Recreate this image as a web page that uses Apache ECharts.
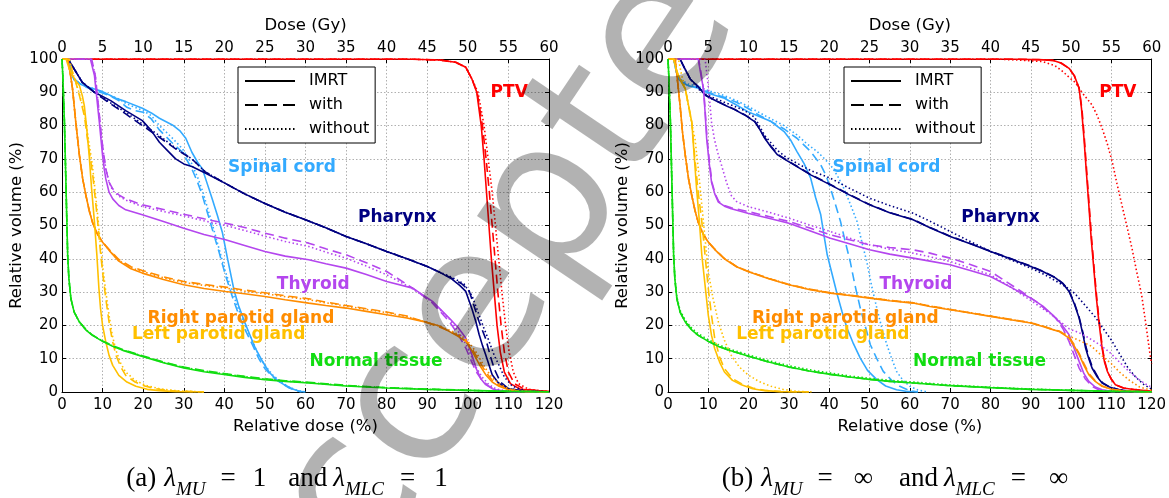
<!DOCTYPE html>
<html><head><meta charset="utf-8">
<script src="https://cdn.jsdelivr.net/npm/echarts@6/dist/echarts.min.js"></script>
<style>html,body{margin:0;padding:0;background:#fff}#c{width:1169px;height:498px}</style>
</head><body><div id="c"></div><script>
// ---------- DATA (relative dose %, relative volume %) ----------
const structNames = ['PTV','Spinal cord','Pharynx','Thyroid','Right parotid gland','Left parotid gland','Normal tissue'];
const structColors = ['#ff0000','#33aaff','#000080','#b446ee','#ff8c00','#ffc000','#11dd11'];
const variantNames = ['IMRT','with','without'];
const labelXa = [110.2,54.2,82.6,61.9,44.1,38.6,77.4];
const labelXb = [111.6,54.2,82.5,61.5,44.0,38.4,77.3];
const labelY = [90,67.3,52.3,32.4,21.9,17.1,9.0];
const captionA = ['(a)','1','1'];
const captionB = ['(b)','∞','∞'];

// Panel (a)
const A_PTV_imrt = [[0,100],[85,100],[93,99.7],[97,99],[99.5,97.5],[101,94],[102.2,90],[103.3,80],[104,70],[104.6,60],[105.2,50],[105.8,40],[106.5,30],[107.2,20],[108,12],[109,6],[110.5,2.5],[113,0.8],[120,0.1]];
const A_PTV_with = [[0,100],[85,100],[93,99.7],[97,99],[99.5,97.5],[101,94],[102.3,90],[103.6,80],[104.5,70],[105.3,60],[106,50],[106.7,40],[107.4,30],[108.2,20],[109,12],[110,6],[111.5,2.5],[114,0.8],[120,0.1]];
const A_PTV_without = [[0,100],[85,100],[93,99.7],[97,99],[99.5,97.5],[101,94],[102.5,90],[104,80],[105,70],[106,60],[106.8,50],[107.6,40],[108.4,30],[109.3,20],[110.2,12],[111.2,6],[112.5,2.5],[115,0.8],[120,0.1]];
const A_Cord_imrt = [[0,100],[1.8,100],[2.5,95],[3,93.7],[4.5,92.5],[5.9,91.7],[8,91],[10,90.2],[13.3,88.2],[15.7,87.2],[19.8,85.2],[22,83.8],[24,82.2],[27.2,80.2],[29,78.5],[30.5,76.2],[32,72],[33.4,69],[34.6,67],[35.8,62.5],[37,58],[38.3,53],[39.5,48],[40.8,40],[42.4,30.5],[43.5,26],[45,21],[46.5,16.5],[47.7,13],[49.5,9],[51,6],[53,3.5],[55,2],[57,0.8],[58.5,0.2],[60,0]];
const A_Cord_with = [[0,100],[1.8,100],[2.5,95],[3,94],[4.5,92.5],[6,91.5],[8,90.5],[10,89.8],[12,88.8],[14,87.5],[16,85.5],[18,84.5],[20,84],[22,82],[24,78.7],[27,75],[29.7,72],[32,67],[33.4,63],[34.6,59],[35.8,54],[37,49],[38.7,42],[40.3,35],[42,28.5],[43.6,23],[45,19],[47,14],[48.5,10],[50,7],[52,4.5],[54,2.7],[56,1.2],[57.5,0.5],[59,0]];
const A_Cord_without = [[0,100],[1.8,100],[2.5,95],[3,94],[4.5,92.5],[6,91.8],[8,91],[10,90],[12,89],[14,88],[16,86.5],[18,85.5],[20,84.5],[22,83],[24,80],[27,76.5],[29.7,73],[32,68.5],[33.4,64.5],[34.6,60.5],[35.8,55.5],[37,50.5],[38.7,43],[40.3,36],[42,30],[43.6,24.5],[45,20.5],[47,15],[48.5,11],[50,8],[52,5],[54,3],[56,1.4],[58,0.5],[60,0]];
const A_Phar_imrt = [[0,100],[1.5,100],[3,97],[5,93],[8,90],[12,87.5],[15.7,84.5],[19.8,81.5],[22,78.5],[24,75],[26,72.5],[28,70],[30,68.5],[32,67.7],[35.4,65.7],[40,62.8],[45,59.5],[50,56.6],[55,54],[60,51.7],[65,49.3],[70,46.7],[75,44.5],[80,42.2],[85,40],[90,37.7],[93,36],[96,34],[98,32],[99.5,30.2],[101,25],[102,21],[102.8,17.2],[103.6,14],[104.4,11.2],[106,5.2],[107.5,2.8],[109.3,1.2],[113,0.4],[116,0.2],[120,0]];
const A_Phar_with = [[0,100],[1.5,100],[3,97],[5,93],[8,90],[12,86.5],[15.7,83.5],[19.8,80],[24,76.5],[28,73],[32,70],[35.4,66],[40,62.8],[45,59.5],[50,56.6],[55,54],[60,51.7],[65,49.3],[70,46.7],[75,44.5],[80,42.2],[85,40],[90,37.7],[93,36],[96,34.2],[98.5,32.5],[100.3,30.5],[101.5,26],[102.8,21],[104.4,16],[105.5,11],[106.5,7],[108,3],[110,1],[114,0.2],[120,0]];
const A_Phar_without = [[0,100],[1.5,100],[3,97],[5,93],[8,90],[12,86.8],[15.7,84],[19.8,80.5],[24,77],[28,73.2],[32,70],[35.4,66],[40,62.8],[45,59.5],[50,56.6],[55,54],[60,51.7],[65,49.3],[70,46.7],[75,44.5],[80,42.2],[85,40],[90,37.7],[93,36],[96,34.5],[99,32.5],[101,29],[102.5,24],[104,19],[105,16],[106.5,11],[107.7,8],[109,4.5],[111,1.7],[114,0.4],[120,0]];
const A_Thy_imrt = [[0,100],[7,100],[8,95],[8.6,88],[9.2,81],[9.6,76],[10,71],[10.4,67],[10.8,64],[11.6,60],[12.5,58],[14,56],[15.7,54.7],[19.8,53.2],[25,51.2],[30,49.2],[35,47.3],[40.3,45.7],[45,44],[50,42.2],[55,40.8],[60.8,39.7],[65,38.5],[70,37.2],[75,35.3],[80,33.2],[86.4,31.2],[91.3,27.2],[95.4,22.2],[97.5,19.5],[99.5,16.2],[100.8,12],[102,7.2],[103.2,4],[104.4,2.2],[106,1],[107.7,0.4],[110,0.1],[120,0]];
const A_Thy_with = [[0,100],[7.3,100],[8.2,95],[8.8,88],[9.3,82],[9.8,76],[10.2,72],[10.8,67],[11.6,63],[12.5,61],[14,59.2],[15.7,58],[19.8,56.2],[25,54.8],[30,53.4],[35,52],[40.3,50.7],[45,49.4],[50,47.7],[55,46.2],[60.8,44.7],[65,43],[70,41.2],[75,38.8],[80,36.2],[86.4,31.2],[91.3,26.7],[95.4,21.2],[97.5,17.5],[99.5,13.2],[100.8,9.5],[102,6.2],[103.5,3.5],[105.2,1.7],[107,0.6],[110,0.1],[120,0]];
const A_Thy_without = [[0,100],[7.3,100],[8.2,95],[8.8,88],[9.3,82],[9.8,76],[10.2,72],[10.8,67],[11.6,63],[12.5,60.5],[14,58.8],[15.7,57.6],[19.8,55.7],[25,54.2],[30,52.9],[35,51.4],[40.3,50],[45,48.5],[50,46.8],[55,45.2],[60.8,43.7],[65,42],[70,40.2],[75,37.8],[80,35.2],[86.4,31],[91.3,27],[95.4,22],[97.5,18.5],[99.5,14.5],[100.8,11],[102,7.5],[103.5,4.5],[105.2,2.2],[107,0.9],[110,0.2],[120,0]];
const A_RP_imrt = [[0,100],[1.4,100],[2,96],[2.6,91],[3.4,81],[4.3,71],[5.1,64],[5.9,59],[6.7,54.5],[7.5,51],[8.7,47.5],[10,45],[12,42],[14,39.3],[17,37],[19.8,35.7],[25,33.8],[30,32.2],[35,31.1],[40.3,30.2],[45,29.5],[50,28.7],[55,27.7],[60.8,26.7],[65,26],[70,25.2],[75,24.2],[80,23.2],[85,22.2],[90,20.9],[93,19.8],[95.4,18.2],[97.5,16.8],[99.5,15.2],[100.8,12.8],[102,10.2],[103.2,7.5],[104.4,5.2],[106,3],[107.7,1.7],[110,0.7],[112.6,0.2],[120,0]];
const A_RP_with = [[0,100],[1.4,100],[2,96],[2.6,91],[3.4,81],[4.3,71],[5.1,64],[5.9,59],[6.7,54.5],[7.5,51],[8.7,47.5],[10,45],[12,42.3],[14,39.8],[17,37.6],[19.8,36.5],[25,34.6],[30,33.2],[35,32.3],[40.3,31.5],[45,30.6],[50,29.8],[55,28.9],[60.8,28],[65,27],[70,26],[75,25],[80,24],[85,22.8],[90,20.8],[93,19.5],[95.4,18.3],[97.5,17],[99.5,15.5],[100.8,13.5],[102,11],[103.2,8.5],[104.4,6],[106,3.5],[107.7,2],[110,0.8],[113,0.2],[120,0]];
const A_RP_without = [[0,100],[1.4,100],[2,96],[2.6,91],[3.4,81],[4.3,71],[5.1,64],[5.9,59],[6.7,54.5],[7.5,51],[8.7,47.5],[10,45],[12,42.1],[14,39.5],[17,37.3],[19.8,36.2],[25,34.3],[30,32.9],[35,32],[40.3,31.2],[45,30.3],[50,29.5],[55,28.6],[60.8,27.7],[65,26.8],[70,25.8],[75,24.8],[80,23.8],[85,22.6],[90,20.9],[93,19.8],[95.4,18.6],[97.5,17.4],[99.5,16],[100.8,14],[102,12],[103.2,9.5],[104.4,7],[106,4.3],[107.7,2.5],[110,1],[113,0.3],[120,0]];
const A_LP_imrt = [[0,100],[1,100],[1.8,97],[2.6,95],[3.4,93.5],[4.3,92],[5,89],[5.5,86],[6.1,79],[6.7,71],[7.3,61],[8,51],[8.6,41],[9.1,31],[9.5,25],[10,20],[10.8,15],[11.6,11],[12.5,8],[14,5],[16,3],[18.2,1.7],[21,0.8],[24,0.4],[28,0.1],[35,0]];
const A_LP_with = [[0,100],[1.8,100],[2.6,96],[3.4,93],[4.3,89],[5.5,83],[6.5,74],[7.5,66],[8.2,58],[8.8,51],[9.4,43],[10,36],[10.8,28],[11.6,21],[12.4,15.5],[13.3,11],[14.5,7.5],[15.7,5],[18,3],[20.6,1.7],[24,0.8],[28,0.3],[35,0]];
const A_LP_without = [[0,100],[1.8,100],[2.6,96],[3.4,93],[4.3,89.5],[5.5,84],[6.5,76],[7.5,68],[8.2,60],[8.8,53],[9.4,45],[10,38],[10.8,30],[11.6,23],[12.4,17],[13.3,12.5],[14.5,8.5],[15.7,6],[18,3.5],[20.6,2],[24,1],[28,0.4],[35,0]];
const A_NT_imrt = [[0,100],[0.2,95],[0.4,88],[0.6,81],[0.8,71],[1,61],[1.2,51],[1.4,41],[1.7,34],[2.2,28],[3,24],[4.3,21],[6,18.5],[7.5,17],[10,15.2],[12.5,13.7],[15,12.5],[19.8,10.7],[25,8.8],[30,7.2],[35,6.1],[40.3,5.2],[45,4.4],[50,3.7],[55,3.2],[60.8,2.7],[70,1.8],[80,1.2],[90,0.8],[100,0.5],[110,0.2],[120,0.05]];
const A_NT_with = [[0,100],[0.2,95],[0.4,88],[0.6,81],[0.8,71],[1,61],[1.2,51],[1.4,41],[1.7,34],[2.2,28],[3,24],[4.3,21],[6,18.6],[7.5,17.1],[10,15.3],[12.5,13.9],[15,12.7],[19.8,10.9],[25,9],[30,7.5],[35,6.4],[40.3,5.5],[45,4.7],[50,4],[55,3.4],[60.8,2.9],[70,2],[80,1.3],[90,0.9],[100,0.5],[110,0.2],[120,0.05]];
const A_NT_without = [[0,100],[0.2,95],[0.4,88],[0.6,81],[0.8,71],[1,61],[1.2,51],[1.4,41],[1.7,34],[2.2,28],[3,24],[4.3,21],[6,18.6],[7.5,17.1],[10,15.3],[12.5,13.8],[15,12.6],[19.8,10.8],[25,8.9],[30,7.4],[35,6.3],[40.3,5.4],[45,4.6],[50,3.9],[55,3.3],[60.8,2.8],[70,1.9],[80,1.3],[90,0.8],[100,0.5],[110,0.2],[120,0.05]];

// Panel (b)
const B_PTV_imrt = [[0,100],[85,100],[92,99.8],[95.4,99.6],[97.5,98.8],[99.5,97.2],[100.8,95],[102,91.2],[102.6,85],[103.2,76.2],[103.8,66],[104.4,56.2],[105,46],[105.7,36.2],[106.3,28],[106.9,21.2],[107.7,13.2],[108.3,9],[109,6.2],[110,3.8],[111,2.2],[113,1.2],[115.9,0.7],[120,0.2]];
const B_PTV_with = [[0,100],[85,100],[92,99.8],[95.4,99.6],[97.5,98.8],[99.5,97.2],[100.8,95],[102,91.2],[102.7,85],[103.3,76],[103.9,66],[104.5,56],[105.1,46],[105.8,36],[106.4,28],[107,21],[107.8,13],[108.4,9],[109.1,6],[110,3.8],[111,2.2],[113,1.2],[116,0.7],[120,0.2]];
const B_PTV_without = [[0,100],[80,100],[83,99.9],[88,99.6],[93,99.2],[96,98],[98,96.2],[99.5,94.5],[101,93],[103,89.5],[105.2,86.2],[106.5,83],[107.7,79.2],[109,74.5],[110.2,69.2],[111.4,62.5],[112.6,56.2],[113.9,49.5],[115.1,43.2],[116.3,36],[117.5,29.2],[118.6,20],[119.6,11.2],[120,8.5]];
const B_Cord_imrt = [[0,100],[1.4,100],[2,96.5],[2.6,94],[3.5,93],[5,92],[7.5,91.2],[10,89.7],[14,88.2],[17,86.2],[19.8,84.2],[22.5,82.8],[25.6,81.2],[28.8,78.2],[30.5,75.5],[32,72.2],[33.8,68.5],[35.4,64.2],[36.6,58.5],[37.9,53.2],[38.7,47],[39.5,41.2],[40.8,35],[42,29.2],[43.2,24],[44.4,19.2],[46,14.5],[47.7,10.2],[49.5,6.5],[51.8,3.7],[54,1.8],[56.7,0.7],[59,0.2],[62,0]];
const B_Cord_with = [[0,100],[1.4,100],[2,96.5],[2.6,94],[3.5,93],[5,92],[7.5,91.5],[10,90],[14,88.5],[17,87],[19.8,85.2],[22.5,83.2],[25.6,81.2],[28.8,79],[32,76.2],[35.4,72.2],[37.9,68.2],[39.2,65],[40.3,61.2],[41.5,56.5],[42.8,51.2],[44,45],[45.2,39.2],[46.4,32],[47.7,25.2],[49,19.5],[50.2,14.2],[51.8,10],[53.4,6.2],[55.5,3.5],[57.5,1.7],[60,0.4],[62,0]];
const B_Cord_without = [[0,100],[1.4,100],[2,96.5],[2.6,94.5],[3.5,93.5],[5,92.5],[7.5,91.8],[10,90.5],[14,89],[17,87.5],[19.8,85.8],[22.5,84],[25.6,82],[28.8,80],[32,77.2],[34.5,74.5],[37,72.2],[38.7,70.2],[40.3,68.2],[42,65],[43.6,61.2],[45.2,56.5],[46.9,51.2],[48.1,45],[49.3,39.2],[50.5,32],[51.8,25.2],[53,19.5],[54.3,14.2],[55.5,10],[56.7,6.2],[58.3,3.5],[60,1.7],[62,0.6],[64,0.1]];
const B_Phar_imrt = [[0,100],[3,100],[4,97.5],[5.5,94],[7.5,91.7],[9.2,89.2],[11,88],[14,86.2],[16.5,84.8],[19,83.2],[21.5,81.2],[22.8,78.8],[24,76.2],[25.6,73.5],[27.2,71.2],[29.5,69.5],[32,67.7],[35.4,65.2],[40.3,62.2],[45,59.2],[50,56.2],[55,53.8],[60.8,51.7],[65,49.3],[70,46.7],[75,44.5],[80,42.2],[85,40],[90,37.7],[93,36.2],[96.2,34.2],[98,32.5],[99.5,30.2],[100.8,26.5],[102,22.2],[103,17],[103.6,13.2],[104.4,10],[105.2,7.2],[106.5,4.5],[107.7,2.7],[109.5,1.5],[111.8,0.7],[115,0.2],[120,0]];
const B_Phar_with = [[0,100],[3,100],[4,97.5],[5.5,94],[7.5,91.7],[9.2,89.2],[11,88],[14,86.3],[16.5,84.9],[19,83.3],[21.5,81.3],[22.8,78.9],[24,76.4],[25.6,73.7],[27.2,71.4],[29.5,69.6],[32,67.8],[35.4,65.3],[40.3,62.3],[45,59.3],[50,56.3],[55,53.9],[60.8,51.8],[65,49.4],[70,46.8],[75,44.6],[80,42.3],[85,40.1],[90,37.8],[93,36.3],[96.2,34.3],[98,32.6],[99.5,30.4],[100.8,26.8],[102,22.5],[103,17.5],[103.7,13.5],[104.5,10.2],[105.3,7.4],[106.6,4.6],[107.8,2.8],[109.6,1.5],[112,0.7],[115,0.2],[120,0]];
const B_Phar_without = [[0,100],[3,100],[4,97.5],[5.5,94],[7.5,91],[9.2,89.5],[11,88.5],[14,87],[16.5,85.8],[19,84.5],[21.5,82.5],[24,77],[27.2,72.5],[29.5,70.3],[32,68.7],[35.4,66.5],[40.3,64.2],[45,61.2],[50,58.2],[55,56],[60.8,53.7],[65,51.3],[70,48.2],[75,45.2],[80,42.2],[85,39.7],[90,37.2],[93,35.5],[96,33.5],[99.5,31],[101,29.5],[103.5,26],[106,22.5],[108,19],[110,15.6],[112,11.5],[114,7.5],[116,4.5],[118,2.3],[120,0.8]];
const B_Thy_imrt = [[0,100],[7.5,100],[8.2,95],[8.8,91],[9.2,84],[9.6,76],[10.2,69],[10.8,63],[11.6,59.5],[12.5,57],[14,55.8],[15.7,55],[19.8,53.7],[25,52.2],[30,50.7],[35,48.5],[40.3,46.2],[45,44.5],[50,42.7],[55,41.4],[60.8,40.2],[65,39.3],[70,38.2],[75,36.5],[80,34.7],[85,31.5],[90,28.2],[93,25.8],[95.4,23.2],[97.5,20.5],[99.5,17.2],[100.8,13],[102,9.2],[103.2,5.5],[104.4,3.2],[106,1.5],[107.7,0.7],[110,0.2],[120,0]];
const B_Thy_with = [[0,100],[7.6,100],[8.3,95],[8.9,90],[9.3,83],[9.7,76],[10.3,69],[10.9,63],[11.7,59.5],[12.6,57.2],[14,56],[15.7,55.3],[19.8,54.2],[25,52.7],[30,51.2],[35,49.3],[40.3,47.2],[45,45.7],[50,44.2],[55,43.4],[60.8,42.7],[65,41.7],[70,40.2],[75,38.3],[80,36.2],[86.4,31.2],[91.3,27.2],[96.2,22.2],[98,19],[99.5,15.2],[100.8,11],[102,7.2],[103.5,4],[105.2,1.7],[107,0.6],[110,0.1],[120,0]];
const B_Thy_without = [[0,100],[9.2,100],[9.8,94],[10.3,88],[10.8,81],[11.5,76],[12.3,72],[13.3,68],[14.5,63],[15.7,59],[17,57.2],[19.8,55.7],[25,54],[30,52.2],[35,50.2],[40.3,48.2],[45,46.2],[50,44.2],[55,42.9],[60.8,41.7],[65,40.6],[70,39.2],[75,37.2],[80,35.2],[85,31.5],[90,27.5],[95.4,23],[99.5,19],[102,17.8],[104,16.5],[107,14.3],[109.5,12],[112,9],[114.5,6],[117,3.6],[119,2],[120,1.5]];
const B_RP_imrt = [[0,100],[1.8,100],[2.4,93],[3,86],[3.6,78],[4.3,71],[5.1,64],[5.9,59],[6.7,54.5],[7.5,51],[8.7,47.5],[10,45],[12,42.3],[14,40],[17,37.6],[19.8,36.2],[25,34],[30,32.2],[35,30.8],[40.3,29.7],[45,29],[50,28.2],[55,27.4],[60.8,26.7],[65,25.7],[70,24.7],[75,23.7],[80,22.7],[85,21.7],[90,20.7],[93,19.7],[95.5,18.7],[97,18.2],[98.5,17],[99.5,16.2],[100.8,13.8],[102,11.2],[103.2,8],[104.4,5.2],[106,3.2],[107.7,1.7],[110,0.8],[113,0.3],[120,0]];
const B_RP_with = [[0,100],[1.8,100],[2.4,93],[3,86],[3.6,78],[4.3,71],[5.1,64],[5.9,59],[6.7,54.5],[7.5,51],[8.7,47.5],[10,45],[12,42.4],[14,40.1],[17,37.7],[19.8,36.3],[25,34.1],[30,32.3],[35,30.9],[40.3,29.8],[45,29.1],[50,28.3],[55,27.5],[60.8,26.8],[65,25.8],[70,24.8],[75,23.8],[80,22.8],[85,21.8],[90,20.8],[93,19.8],[95.5,18.8],[97,18.3],[98.5,17.3],[99.5,16.5],[100.8,14.2],[102,11.6],[103.2,8.5],[104.4,5.6],[106,3.4],[107.7,1.8],[110,0.8],[113,0.3],[120,0]];
const B_RP_without = [[0,100],[1.8,100],[2.4,93],[3,86],[3.6,78],[4.3,71],[5.1,64],[5.9,59],[6.7,54.5],[7.5,51],[8.7,47.5],[10,45],[12,42.3],[14,40],[17,37.7],[19.8,36.3],[25,34.1],[30,32.3],[35,30.9],[40.3,29.8],[45,29.1],[50,28.3],[55,27.5],[60.8,26.8],[65,25.8],[70,24.8],[75,23.8],[80,22.8],[85,21.8],[90,20.8],[93,19.8],[95.5,18.8],[97,18.2],[99.5,16.8],[102,15.5],[105,13.8],[108,10.5],[110,8.5],[112,6],[114.5,3.5],[117,1.5],[120,0.5]];
const B_LP_imrt = [[0,100],[1.4,100],[2,97],[2.6,95],[3.4,93],[4.3,91],[5.1,86],[5.9,81],[6.5,71],[7.1,61],[7.8,51],[8.4,41],[9.2,32],[10,23],[10.8,17],[11.6,13],[12.8,9],[14,6],[16,3.5],[18.2,2.2],[21,1],[24,0.4],[28,0.1],[35,0]];
const B_LP_with = [[0,100],[1.4,100],[2,97],[2.6,95],[3.4,93],[4.3,91],[5.1,86],[5.9,81],[6.6,71],[7.4,61],[8.4,51],[9.2,41],[10,31],[10.8,23],[11.6,16],[12.8,10.5],[14,7],[16,4],[18.2,2.5],[21,1.2],[24,0.5],[28,0.1],[35,0]];
const B_LP_without = [[0,100],[2.6,100],[3.4,95],[4.3,91],[5.5,83],[6.7,76],[7.6,66],[8.4,56],[9.2,46],[10,36],[11.2,28],[12.5,21],[14,15.5],[15.7,11],[17.7,7.5],[19.8,5.2],[22.5,3.2],[25.6,1.7],[28.5,0.8],[32,0.2],[36,0]];
const B_NT_imrt = [[0,100],[0.2,95],[0.4,88],[0.6,81],[0.8,71],[1,61],[1.2,51],[1.4,41],[1.7,34],[2.2,28],[3,24],[4.3,21],[6,18.5],[7.5,17],[10,15.2],[12.5,13.7],[15,12.6],[19.8,10.8],[25,9],[30,7.5],[35,6.3],[40.3,5.3],[45,4.5],[50,3.8],[55,3.2],[60.8,2.7],[70,1.9],[80,1.3],[90,0.8],[100,0.5],[110,0.2],[120,0.05]];
const B_NT_with = [[0,100],[0.2,95],[0.4,88],[0.6,81],[0.8,71],[1,61],[1.2,51],[1.4,41],[1.7,34],[2.2,28],[3,24],[4.3,21],[6,18.5],[7.5,17],[10,15.2],[12.5,13.7],[15,12.6],[19.8,10.8],[25,9],[30,7.5],[35,6.3],[40.3,5.3],[45,4.5],[50,3.8],[55,3.2],[60.8,2.7],[70,1.9],[80,1.3],[90,0.8],[100,0.5],[110,0.2],[120,0.05]];
const B_NT_without = [[0,100],[0.2,95],[0.4,88],[0.6,81],[0.8,71],[1,61],[1.2,51],[1.4,41],[1.7,34.5],[2.2,28.5],[3,24.5],[4.3,21.5],[6,19],[7.5,17.5],[10,15.7],[12.5,14.2],[15,13],[19.8,11.2],[25,9.4],[30,7.9],[35,6.7],[40.3,5.7],[45,4.8],[50,4.1],[55,3.5],[60.8,3],[70,2.1],[80,1.4],[90,0.9],[100,0.5],[110,0.2],[120,0.05]];

const panelCurves = [
  [[A_PTV_imrt,A_PTV_with,A_PTV_without],[A_Cord_imrt,A_Cord_with,A_Cord_without],[A_Phar_imrt,A_Phar_with,A_Phar_without],[A_Thy_imrt,A_Thy_with,A_Thy_without],[A_RP_imrt,A_RP_with,A_RP_without],[A_LP_imrt,A_LP_with,A_LP_without],[A_NT_imrt,A_NT_with,A_NT_without]],
  [[B_PTV_imrt,B_PTV_with,B_PTV_without],[B_Cord_imrt,B_Cord_with,B_Cord_without],[B_Phar_imrt,B_Phar_with,B_Phar_without],[B_Thy_imrt,B_Thy_with,B_Thy_without],[B_RP_imrt,B_RP_with,B_RP_without],[B_LP_imrt,B_LP_with,B_LP_without],[B_NT_imrt,B_NT_with,B_NT_without]]
];
const panelLabelX = [labelXa, labelXb];

// ---------- STYLE / LAYOUT ----------
const FONT = 'DejaVu Sans';
const lineTypes = ['solid',[9,5],[1.5,2.5]];
const gridLefts = [62, 668];
const gridW = 487, gridTop = 59, gridH = 333;

const grids = [], xAxes = [], yAxes = [], series = [], legends = [];
for (let p = 0; p < 2; p++) {
  grids.push({left: gridLefts[p], top: gridTop, width: gridW, height: gridH, containLabel: false});
  const tickStyle = {show: true, inside: true, length: 4, lineStyle: {color: '#000', width: 1}};
  const axLine = {show: true, onZero: false, lineStyle: {color: '#000', width: 1}};
  xAxes.push({gridIndex: p, type: 'value', min: 0, max: 120, interval: 10, position: 'bottom',
    name: 'Relative dose (%)', nameLocation: 'middle', nameGap: 25,
    nameTextStyle: {fontFamily: FONT, fontSize: 16.5, color: '#000'},
    axisLine: axLine, axisTick: tickStyle,
    axisLabel: {fontFamily: FONT, fontSize: 15, color: '#000', margin: 6},
    splitLine: {show: true, lineStyle: {color: '#b0b0b0', type: [1.5,2], width: 1}}});
  xAxes.push({gridIndex: p, type: 'value', min: 0, max: 60, interval: 5, position: 'top',
    name: 'Dose (Gy)', nameLocation: 'middle', nameGap: 25,
    nameTextStyle: {fontFamily: FONT, fontSize: 16.5, color: '#000'},
    axisLine: axLine, axisTick: tickStyle,
    axisLabel: {fontFamily: FONT, fontSize: 15, color: '#000', margin: 3},
    splitLine: {show: false}});
  yAxes.push({gridIndex: p, type: 'value', min: 0, max: 100, interval: 10, position: 'left',
    name: 'Relative volume (%)', nameLocation: 'middle', nameGap: 34,
    nameTextStyle: {fontFamily: FONT, fontSize: 16.5, color: '#000'},
    axisLine: axLine, axisTick: tickStyle,
    axisLabel: {fontFamily: FONT, fontSize: 15, color: '#000', margin: 4},
    splitLine: {show: true, lineStyle: {color: '#b0b0b0', type: [1.5,2], width: 1}}});
  yAxes.push({gridIndex: p, type: 'value', min: 0, max: 100, interval: 10, position: 'right',
    axisLine: axLine, axisTick: tickStyle, axisLabel: {show: false}, splitLine: {show: false}});

  const curves = panelCurves[p];
  for (let s = 0; s < structNames.length; s++) {
    for (let v = 0; v < 3; v++) {
      series.push({type: 'line', name: structNames[s] + ' ' + variantNames[v] + ' ' + p,
        xAxisIndex: 2 * p, yAxisIndex: 2 * p, data: curves[s][v],
        showSymbol: false, symbol: 'none', silent: true, animation: false, z: 3,
        lineStyle: {color: structColors[s], width: 1.6, type: lineTypes[v]}});
    }
  }
  // structure labels placed at data coordinates
  series.push({type: 'scatter', xAxisIndex: 2 * p, yAxisIndex: 2 * p, silent: true, animation: false, z: 5,
    symbolSize: 0,
    data: structNames.map((n, i) => ({value: [panelLabelX[p][i], labelY[i]], name: n,
      itemStyle: {color: structColors[i]},
      label: {show: true, position: 'inside', formatter: n, color: structColors[i], opacity: 1,
        textBorderWidth: 0, textBorderColor: 'transparent',
        fontFamily: FONT, fontWeight: 'bold', fontSize: 17}}))});

  legends.push({data: variantNames, orient: 'vertical', left: gridLefts[p] + 176, top: 67,
    itemWidth: 50, itemHeight: 14, itemGap: 8, padding: [6, 6, 6, 6],
    borderColor: '#000', borderWidth: 1, backgroundColor: '#fff', selectedMode: false,
    itemStyle: {opacity: 0, borderWidth: 0},
    textStyle: {fontFamily: FONT, fontSize: 16, color: '#000', padding: [0, 0, 0, 9]}});
}
// legend proxy series
const legendDash = ['solid', [13, 6], [1.5, 2.5]];
variantNames.forEach((n, v) => series.push({type: 'line', name: n, xAxisIndex: 0, yAxisIndex: 0, data: [],
  symbol: 'none', color: '#000', lineStyle: {color: '#000', width: 1.6, type: legendDash[v]}}));

function caption(cx, parts, extra) {
  const F = 'Liberation Serif';
  return {type: 'text', x: cx, y: 479, z: 10,
    style: {text: '{n|' + parts[0] + '}{i|λ}{s|MU}{e|=}{o|' + parts[1] + '}{a|and}{i|λ}{s2|MLC}{e2|=}{m|' + parts[2] + '}',
      align: 'center', verticalAlign: 'middle', lineHeight: 30, fill: '#000',
      rich: {n: {fontFamily: F, fontSize: 27, lineHeight: 30, padding: [0, 8, 0, 0]},
             m: {fontFamily: F, fontSize: 27, lineHeight: 30},
             o: {fontFamily: F, fontSize: 27, lineHeight: 30, padding: [0, 22 + extra, 0, 0]},
             a: {fontFamily: F, fontSize: 27, lineHeight: 30, padding: [0, 6, 0, 0]},
             e: {fontFamily: F, fontSize: 27, lineHeight: 30, padding: [0, 17 + extra, 0, 0]},
             e2: {fontFamily: F, fontSize: 27, lineHeight: 30, padding: [0, 19 + extra, 0, 0]},
             i: {fontFamily: F, fontStyle: 'italic', fontSize: 27, lineHeight: 30},
             s: {fontFamily: F, fontStyle: 'italic', fontSize: 19, lineHeight: 30, padding: [22, 15, 0, 0]},
             s2: {fontFamily: F, fontStyle: 'italic', fontSize: 19, lineHeight: 30, padding: [22, 16, 0, 0]}}}};
}

const chart = echarts.init(document.getElementById('c'), null, {renderer: 'canvas'});
chart.setOption({
  animation: false, backgroundColor: '#fff',
  grid: grids, xAxis: xAxes, yAxis: yAxes, legend: legends, series: series,
  graphic: [
    caption(287, captionA, 0), caption(895, captionB, 4),
    {type: 'text', x: 248, y: 658, rotation: 56 * Math.PI / 180, z: 100, silent: true,
      style: {text: 'Accepted', font: '200px "DejaVu Sans"', fill: 'rgba(0,0,0,0.3)', align: 'left', verticalAlign: 'middle'}}
  ]
});
</script></body></html>
